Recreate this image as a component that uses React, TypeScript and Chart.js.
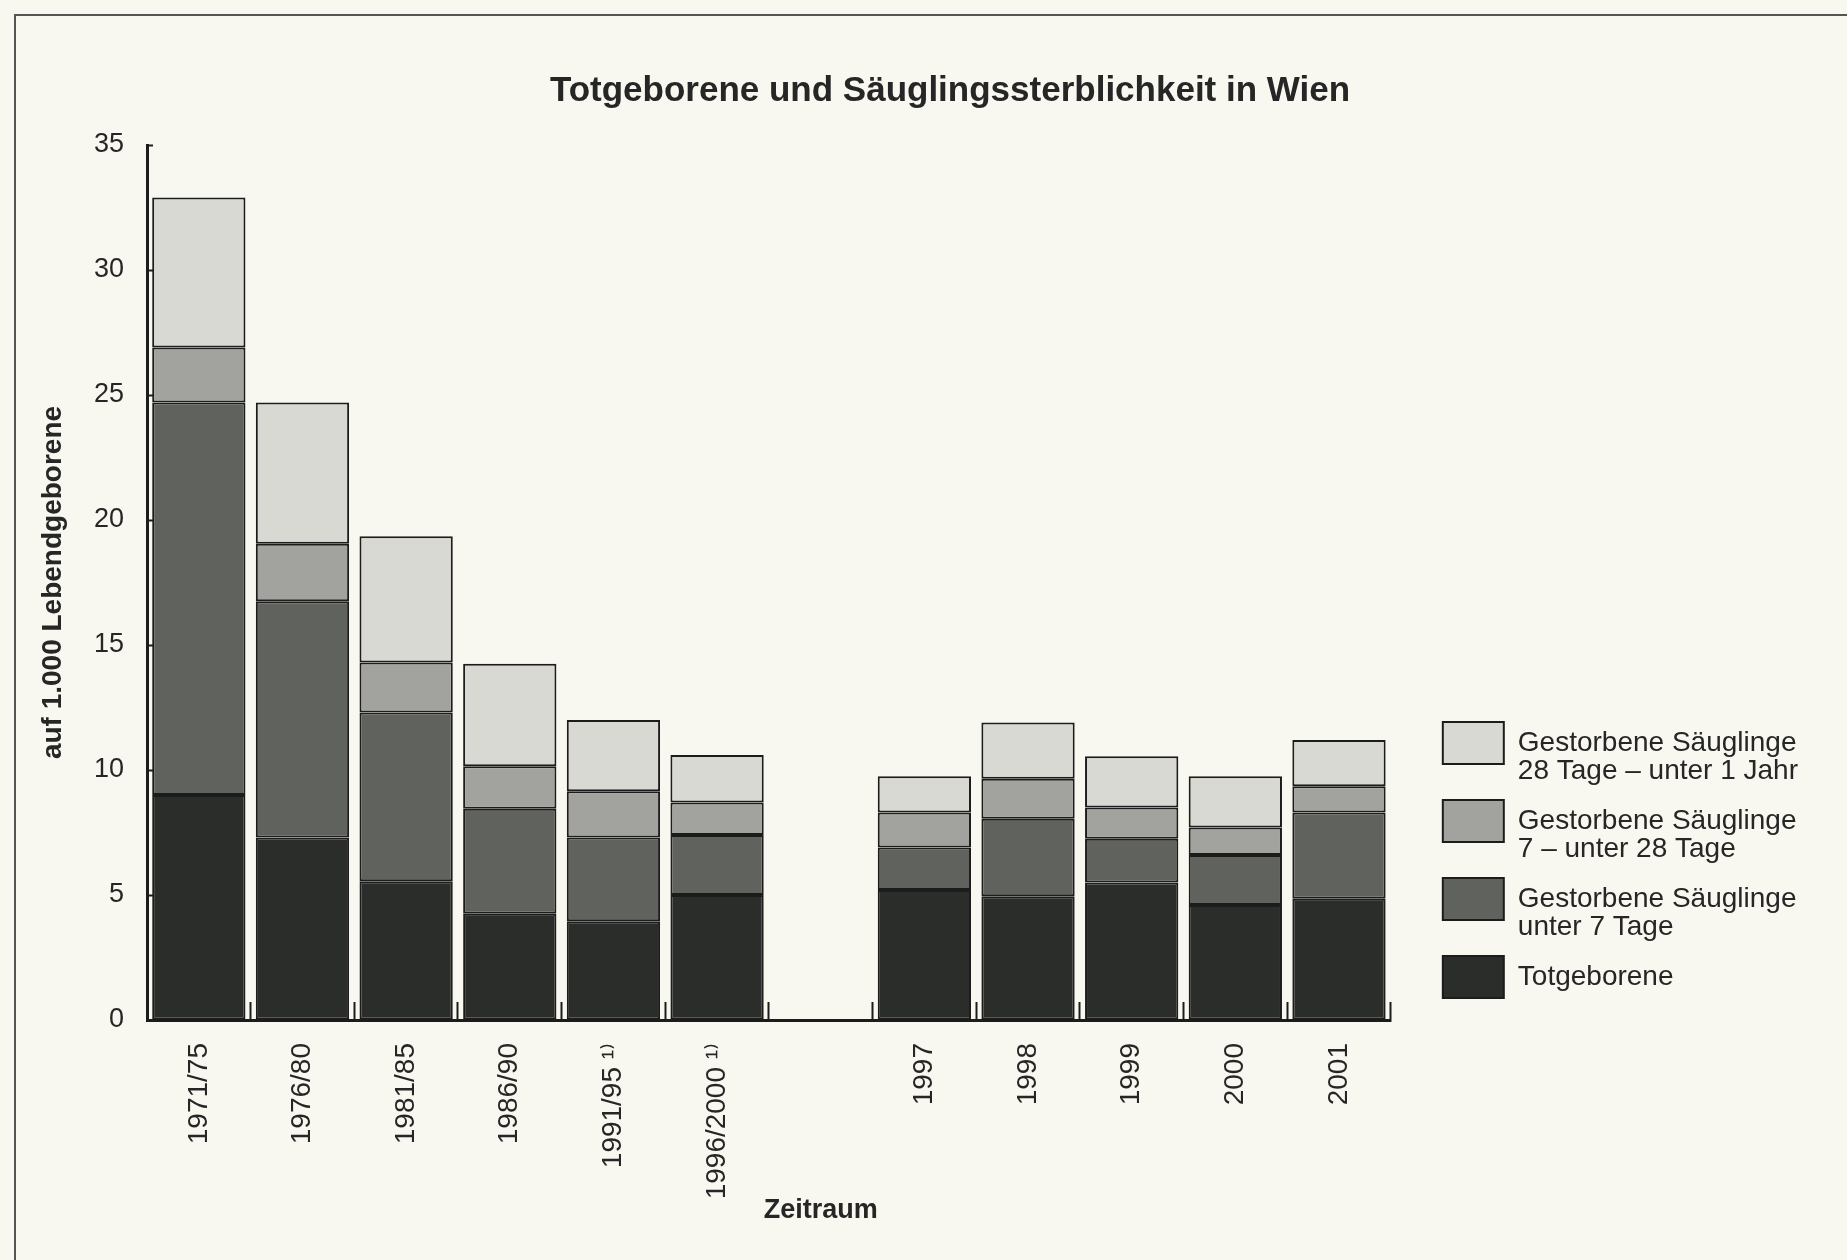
import React, { useEffect, useRef } from 'react';
import { Chart, registerables } from 'chart.js';

Chart.register(...registerables);

// ---------- data ----------
const chartTitle = 'Totgeborene und Säuglingssterblichkeit in Wien';
const yAxisTitle = 'auf 1.000 Lebendgeborene';
const xAxisTitle = 'Zeitraum';

const categories = [
  '1971/75', '1976/80', '1981/85', '1986/90', '1991/95 ¹⁾', '1996/2000 ¹⁾',
  '', '1997', '1998', '1999', '2000', '2001',
];
const gapIndex = 6;

const totgeborene = [9.0, 7.3, 5.55, 4.25, 3.95, 5.0, null, 5.2, 4.95, 5.5, 4.6, 4.85];
const unter7Tage = [15.7, 9.45, 6.75, 4.2, 3.35, 2.4, null, 1.7, 3.1, 1.75, 2.0, 3.45];
const tage7bisUnter28 = [2.2, 2.3, 2.0, 1.7, 1.85, 1.3, null, 1.4, 1.6, 1.25, 1.1, 1.05];
const tage28bisUnter1Jahr = [6.0, 5.65, 5.05, 4.1, 2.85, 1.9, null, 1.45, 2.25, 2.05, 2.05, 1.85];

const legendTexts: (string | string[])[] = [
  'Totgeborene',
  ['Gestorbene Säuglinge', 'unter 7 Tage'],
  ['Gestorbene Säuglinge', '7 – unter 28 Tage'],
  ['Gestorbene Säuglinge', '28 Tage – unter 1 Jahr'],
];
const seriesColors = ['#2b2d2a', '#60625e', '#a2a39e', '#d8d9d3'];

const yMin = 0;
const yMax = 35;
const yStep = 5;

// ---------- styles ----------
const FONT = "'Liberation Sans', Arial, Helvetica, 'DejaVu Sans', sans-serif";
const TEXT = '#262626';
const LINE = '#1c1c1c';
const BG = '#f8f8f0';

const xTitlePlugin = {
  id: 'xTitleAtGap',
  afterDraw(chart: any) {
    const { ctx, chartArea } = chart;
    const x = chart.scales.x;
    const px = x.getPixelForValue(gapIndex);
    ctx.save();
    ctx.font = `bold 27px ${FONT}`;
    ctx.fillStyle = TEXT;
    ctx.textAlign = 'center';
    ctx.textBaseline = 'middle';
    ctx.fillText(xAxisTitle, px, chartArea.bottom + 191);
    ctx.restore();
  },
};

export default function App() {
  const canvasRef = useRef<HTMLCanvasElement | null>(null);

  useEffect(() => {
    const canvas = canvasRef.current;
    if (!canvas) return;
    Chart.defaults.font.family = FONT;
    Chart.defaults.color = TEXT;

    const seriesData = [totgeborene, unter7Tage, tage7bisUnter28, tage28bisUnter1Jahr];
    const datasets = seriesData.map((d, i) => ({
      label: Array.isArray(legendTexts[i]) ? (legendTexts[i] as string[]).join(' ') : (legendTexts[i] as string),
      data: d,
      backgroundColor: seriesColors[i],
      borderColor: LINE,
      borderWidth: 2,
      borderSkipped: false,
      barPercentage: 0.9,
      categoryPercentage: 1.0,
    }));

    const chart = new Chart(canvas, {
      type: 'bar',
      data: { labels: categories, datasets: datasets as any },
      plugins: [xTitlePlugin],
      options: {
        responsive: false,
        animation: false,
        devicePixelRatio: 1,
        layout: { padding: { left: 92, right: 39, top: 0, bottom: 0 } },
        plugins: {
          tooltip: { enabled: false },
          title: {
            display: true,
            text: chartTitle,
            color: TEXT,
            font: { size: 35, weight: 'bold' },
            padding: { top: 70, bottom: 33 },
          },
          legend: {
            position: 'right',
            align: 'end',
            fullSize: false,
            reverse: true,
            maxWidth: 700,
            labels: {
              boxWidth: 61,
              boxHeight: 42,
              padding: 22,
              color: TEXT,
              font: { size: 28, lineHeight: 1 },
              generateLabels: (c: any) =>
                (Chart.defaults.plugins.legend.labels.generateLabels as any)(c).map((item: any) => ({
                  ...item,
                  text: legendTexts[item.datasetIndex],
                })),
            },
          },
        },
        scales: {
          x: {
            stacked: true,
            offset: true,
            ticks: {
              autoSkip: false,
              minRotation: 90,
              maxRotation: 90,
              padding: 41,
              color: TEXT,
              font: { size: 28 },
            },
            grid: {
              offset: true,
              drawOnChartArea: false,
              drawTicks: true,
              tickLength: -18,
              tickWidth: 2,
              color: LINE,
            },
            border: { display: true, width: 3, color: LINE },
            afterFit: (s: any) => {
              s.height = 240;
            },
          },
          y: {
            stacked: true,
            min: yMin,
            max: yMax,
            ticks: { stepSize: yStep, padding: 29, color: TEXT, font: { size: 27 } },
            grid: {
              drawOnChartArea: false,
              drawTicks: true,
              tickLength: -6,
              tickWidth: 2,
              color: LINE,
            },
            border: { display: true, width: 3, color: LINE },
            title: {
              display: true,
              text: yAxisTitle,
              color: TEXT,
              font: { size: 28, weight: 'bold' },
              padding: { top: -56, bottom: 0 },
            },
            afterFit: (s: any) => {
              s.width = 55;
            },
          },
          y2: {
            type: 'linear',
            position: 'right',
            display: true,
            grid: { display: false, drawTicks: false },
            border: { display: false },
            ticks: { display: false },
            afterFit: (s: any) => {
              s.width = 30;
            },
          },
        },
      } as any,
    });
    return () => chart.destroy();
  }, []);

  return (
    <div style={{ position: 'absolute', left: 0, top: 0, width: 1847, height: 1260, background: BG, overflow: 'hidden' }}>
      <div
        style={{
          position: 'absolute',
          left: 14,
          top: 14,
          width: 1847,
          height: 1260,
          borderTop: '2px solid #555',
          borderLeft: '2px solid #555',
        }}
      />
      <canvas
        ref={canvasRef}
        width={1847}
        height={1260}
        style={{ position: 'absolute', left: 0, top: 0, width: 1847, height: 1260 }}
      />
    </div>
  );
}
